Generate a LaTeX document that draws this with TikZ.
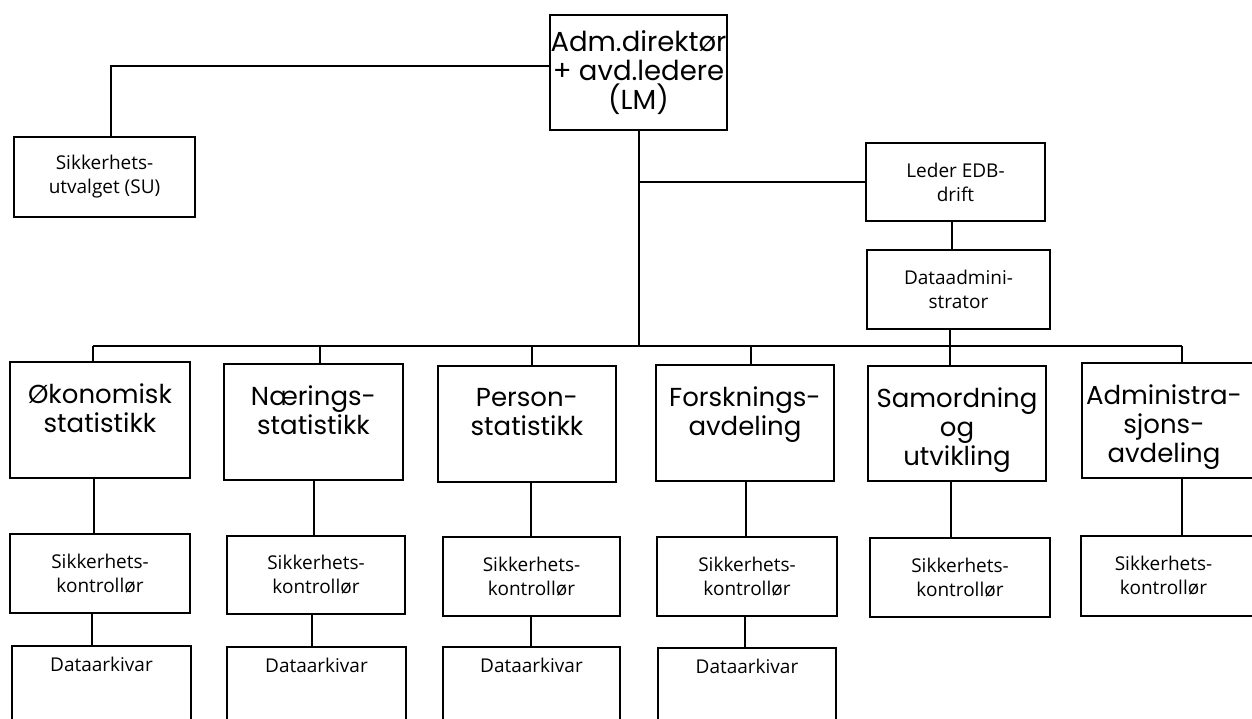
\documentclass[tikz,border=0pt]{standalone}
\usepackage{fontspec}
\setmainfont{Open Sans}
\newfontfamily\geofont{Poppins}
\newcommand\orgbox[5]{%
  \node[box, minimum width={#4-#2}, minimum height={#5-#3}] (#1) at (#2,#3) {};}
\begin{document}
\begin{tikzpicture}[x=1pt,y=-1pt,
  box/.style={draw, line width=2pt, inner sep=0pt, outer sep=0pt, anchor=north west},
  con/.style={line width=1.6pt},
  big/.style={font=\geofont\fontsize{26}{29}\selectfont, align=center, inner sep=0pt},
  small/.style={font=\fontsize{19}{24}\selectfont, align=center, inner sep=0pt}]
\useasboundingbox (0,0) rectangle (1252,719);
\clip (0,0) rectangle (1252,719);
% boxes
\orgbox{lm}{550}{15}{727}{130}
\orgbox{su}{14}{137}{195}{217}
\orgbox{le}{866}{143}{1045}{221}
\orgbox{da}{867}{250}{1050}{329}
\orgbox{b1}{10}{362}{190}{478}
\orgbox{b2}{224}{364}{403}{480}
\orgbox{b3}{438}{366}{616}{482}
\orgbox{b4}{656}{365}{834}{481}
\orgbox{b5}{868}{366}{1046}{481}
\orgbox{b6}{1082}{363}{1264}{478}
\orgbox{s1}{10}{534}{190}{613}
\orgbox{s2}{227}{536}{405}{614}
\orgbox{s3}{443}{537}{620}{616}
\orgbox{s4}{657}{537}{837}{616}
\orgbox{s5}{870}{538}{1050}{617}
\orgbox{s6}{1081}{536}{1264}{616}
\orgbox{d1}{12}{646}{191}{740}
\orgbox{d2}{227}{647}{406}{740}
\orgbox{d3}{443}{647}{620}{740}
\orgbox{d4}{658}{648}{836}{740}
% texts
\node[big, font=\geofont\fontsize{27.5}{29}\selectfont] (lmt) at (lm.center) {Adm.direktør\\+ avd.ledere\\(LM)};
\node[small] (sut) at (su.center) {Sikkerhets-\\utvalget (SU)};
\node[small] (let) at (le.center) {Leder EDB-\\drift};
\node[small] (dat) at (da.center) {Dataadmini-\\strator};
\node[big, anchor=north] (b1t) at ([yshift=-22pt]b1.north) {Økonomisk\\statistikk};
\node[big, anchor=north] (b2t) at ([yshift=-22pt]b2.north) {Nærings-\\statistikk};
\node[big, anchor=north] (b3t) at ([yshift=-22pt]b3.north) {Person-\\statistikk};
\node[big, anchor=north] (b4t) at ([yshift=-22pt]b4.north) {Forsknings-\\avdeling};
\node[big, anchor=north] (b5t) at ([yshift=-22pt]b5.north) {Samordning\\og\\utvikling};
\node[big, anchor=north] (b6t) at ([yshift=-22pt,xshift=-9pt]b6.north) {Administra-\\sjons-\\avdeling};
\foreach \i in {1,...,5} {\node[small] (s\i t) at (s\i.center) {Sikkerhets-\\kontrollør};}
\node[small] (s6t) at ([xshift=-9pt]s6.center) {Sikkerhets-\\kontrollør};
\foreach \i in {1,...,4} {\node[small, anchor=north] (d\i t) at ([yshift=-11pt]d\i.north) {Dataarkivar};}
% connectors
\coordinate (busL) at ([xshift=-7pt]b1.north |- 0,346);
\coordinate (busR) at ([xshift=9pt]b6.north |- 0,346);
\draw[con] (busL) -- (busR);
\draw[con] ([xshift=6.5pt]su.north) |- ([yshift=6.5pt]lm.west);
\draw[con] ([xshift=0.5pt]lm.south) -- ([xshift=0.5pt]lm.south |- busL);
\draw[con] ([xshift=0.5pt]lm.south |- le.west) -- (le.west);
\draw[con] ([xshift=-3.5pt]le.south) -- ([xshift=-3.5pt]le.south |- da.north);
\draw[con] ([xshift=-8.5pt]da.south) -- ([xshift=-8.5pt]da.south |- b5.north);
\draw[con] ([xshift=-7pt]b1.north) -- (busL);
\draw[con] ([xshift=6.5pt]b2.north) -- ([xshift=6.5pt]b2.north |- busL);
\draw[con] ([xshift=5pt]b3.north) -- ([xshift=5pt]b3.north |- busL);
\draw[con] ([xshift=6pt]b4.north) -- ([xshift=6pt]b4.north |- busL);
\draw[con] ([xshift=9pt]b6.north) -- (busR);
\draw[con] ([xshift=-6pt]b1.south) -- ([xshift=-6pt]b1.south |- s1.north);
\draw[con] ([xshift=0.5pt]b2.south) -- ([xshift=0.5pt]b2.south |- s2.north);
\draw[con] ([xshift=4pt]b3.south) -- ([xshift=4pt]b3.south |- s3.north);
\draw[con] ([xshift=1pt]b4.south) -- ([xshift=1pt]b4.south |- s4.north);
\draw[con] ([xshift=-6pt]b5.south) -- ([xshift=-6pt]b5.south |- s5.north);
\draw[con] ([xshift=9pt]b6.south) -- ([xshift=9pt]b6.south |- s6.north);
\draw[con] ([xshift=-8pt]s1.south) -- ([xshift=-8pt]s1.south |- d1.north);
\draw[con] ([xshift=-4pt]s2.south) -- ([xshift=-4pt]s2.south |- d2.north);
\draw[con] ([xshift=-0.5pt]s3.south) -- ([xshift=-0.5pt]s3.south |- d3.north);
\draw[con] ([xshift=-2pt]s4.south) -- ([xshift=-2pt]s4.south |- d4.north);
\end{tikzpicture}
\end{document}
